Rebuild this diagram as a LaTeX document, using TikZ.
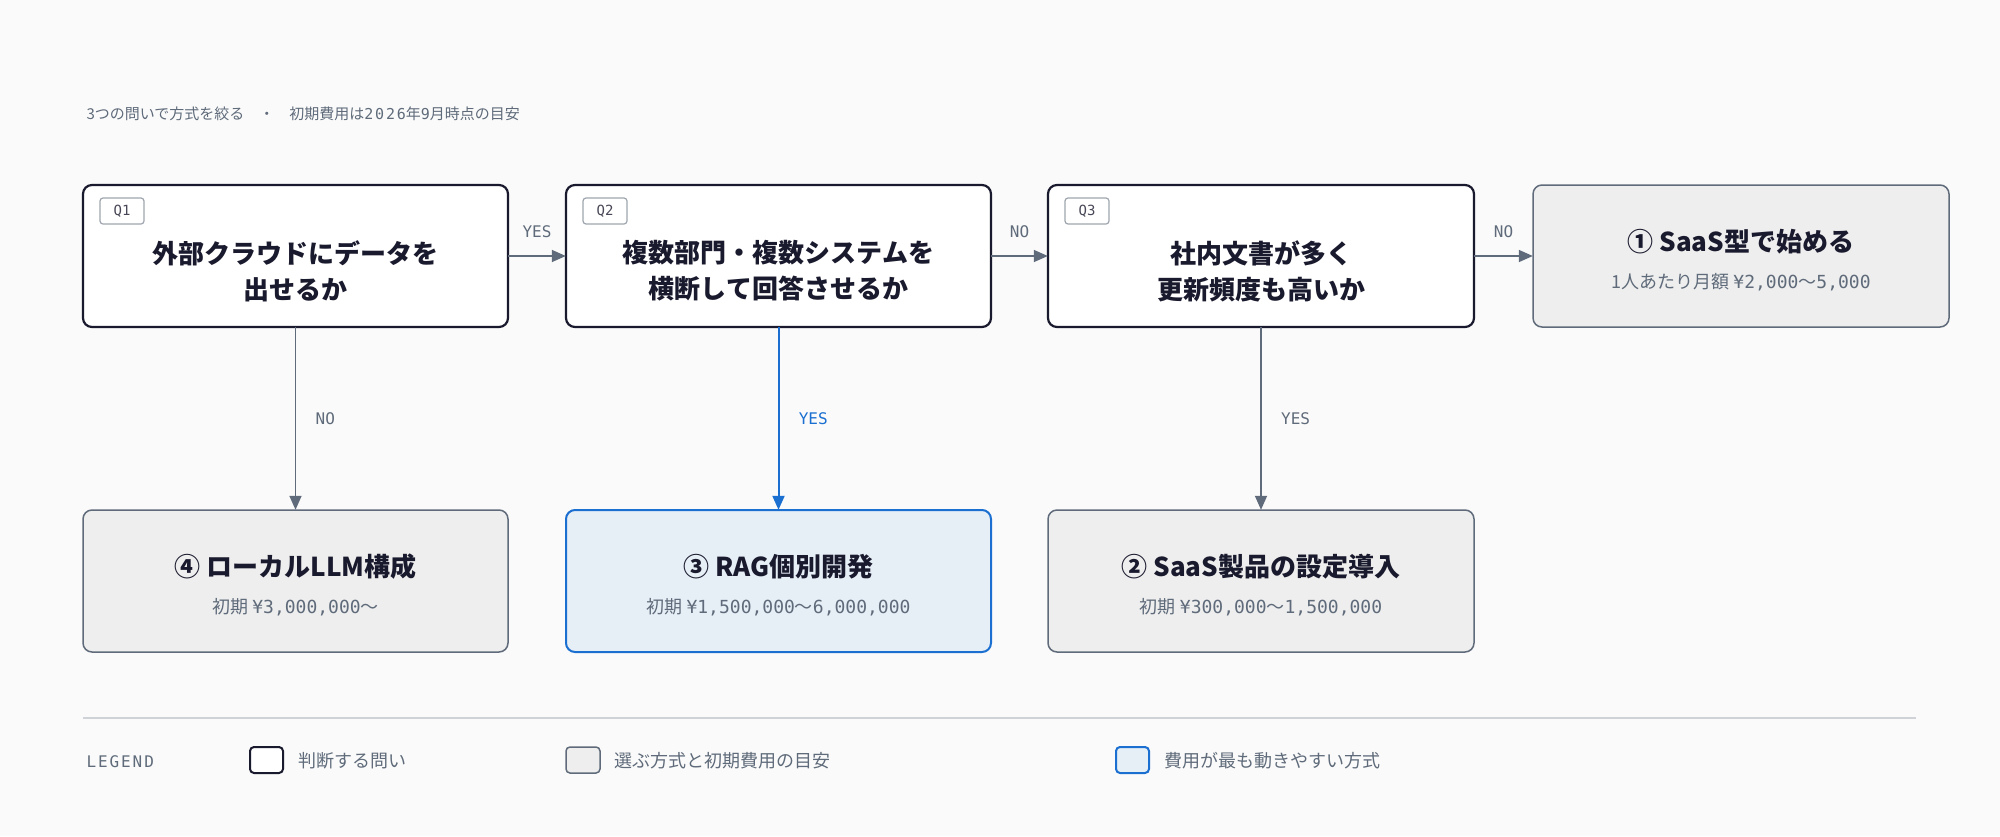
\documentclass[tikz,border=0pt]{standalone}
\usepackage{fontspec}
\setmainfont{Noto Sans CJK JP}
\newfontfamily\monof{DejaVu Sans Mono}
\newfontfamily\monol[LetterSpace=12]{DejaVu Sans Mono}
\usetikzlibrary{arrows.meta}
\definecolor{bgc}{HTML}{FAFAFA}
\definecolor{ink}{HTML}{1A1A2E}
\definecolor{slate}{HTML}{5F6B7A}
\definecolor{greyf}{HTML}{EEEEEE}
\definecolor{bluel}{HTML}{1A6FD1}
\definecolor{bluef}{HTML}{E6EEF6}
\tikzset{
  qbox/.style={draw=ink, line width=2.2pt, fill=white, rounded corners=9pt},
  abox/.style={draw=slate, line width=1.5pt, fill=greyf, rounded corners=9pt},
  bbox/.style={draw=bluel, line width=2pt, fill=bluef, rounded corners=9pt},
  tag/.style={draw=slate!60, line width=1.2pt, rounded corners=3pt, fill=white,
    minimum width=44pt, minimum height=26pt, font=\monof\fontsize{14}{14}\selectfont, text=ink!80},
  qtext/.style={font=\bfseries\fontsize{26}{36}\selectfont, text=ink, align=center},
  ttext/.style={font=\bfseries\fontsize{26}{30}\selectfont, text=ink},
  stext/.style={font=\fontsize{18}{18}\selectfont, text=slate},
  lab/.style={font=\monof\fontsize{16}{16}\selectfont, text=slate},
  arr/.style={draw=slate, line width=1.6pt, -{Triangle[length=14pt,width=12pt]}},
}
\begin{document}
\begin{tikzpicture}[x=1pt, y=-1pt]
    \fill[bgc] (0,0) rectangle (2000,836);
    \useasboundingbox (0,0) rectangle (2000,836);
    \node[anchor=west, font=\fontsize{15}{15}\selectfont, text=slate] (title) at (83,114)
      {3つの問いで方式を絞る\quad・\quad 初期費用は{\monol 2026}年{\monof 9}月時点の目安};
    % questions
    \draw[qbox] (83,185) rectangle (508,327);
    \draw[qbox] (566,185) rectangle (991,327);
    \draw[qbox] (1048,185) rectangle (1474,327);
    \node[tag] (t1) at (122,211) {Q1};
    \node[tag] (t2) at (605,211) {Q2};
    \node[tag] (t3) at (1087,211) {Q3};
    \node[qtext, minimum width=425pt, minimum height=142pt] (q1) at (295.5,256) {};
    \node[qtext, minimum width=425pt, minimum height=142pt] (q2) at (778.5,256) {};
    \node[qtext, minimum width=426pt, minimum height=142pt] (q3) at (1261,256) {};
    \node[qtext] (x1) at (295.5,271) {外部クラウドにデータを\\出せるか};
    \node[qtext] (x2) at (778.5,271) {複数部門・複数システムを\\横断して回答させるか};
    \node[qtext] (x3) at (1261,271) {社内文書が多く\\更新頻度も高いか};
    % answers
    \draw[abox] (1533,185) rectangle (1949,327);
    \draw[abox] (83,510) rectangle (508,652);
    \draw[bbox] (566,510) rectangle (991,652);
    \draw[abox] (1048,510) rectangle (1474,652);
    \node[minimum width=416pt, minimum height=142pt] (a1) at (1741,256) {};
    \node[minimum width=425pt, minimum height=142pt] (a4) at (295.5,581) {};
    \node[minimum width=425pt, minimum height=142pt] (a3) at (778.5,581) {};
    \node[minimum width=426pt, minimum height=142pt] (a2) at (1261,581) {};
    \node[ttext] (h1) at (1741,242) {① SaaS型で始める};
    \node[stext] (s1) at (1741,282) {1人あたり月額 {\monof ¥2,000}〜{\monof 5,000}};
    \node[ttext] (h4) at (295.5,567) {④ ローカルLLM構成};
    \node[stext] (s4) at (295.5,607) {初期 {\monof ¥3,000,000}〜};
    \node[ttext] (h3) at (778.5,567) {③ RAG個別開発};
    \node[stext] (s3) at (778.5,607) {初期 {\monof ¥1,500,000}〜{\monof 6,000,000}};
    \node[ttext] (h2) at (1261,567) {② SaaS製品の設定導入};
    \node[stext] (s2) at (1261,607) {初期 {\monof ¥300,000}〜{\monof 1,500,000}};
    % connectors
    \draw[arr] (q1) to node[lab, above, yshift=14pt] {YES} (q2);
    \draw[arr] (q2) to node[lab, above, yshift=14pt] {NO} (q3);
    \draw[arr] (q3) to node[lab, above, yshift=14pt] {NO} (a1);
    \draw[arr] (q1) to node[lab, right, xshift=16pt, pos=0.5] {NO} (a4);
    \draw[arr, draw=bluel, line width=2pt] (q2) to node[lab, text=bluel, right, xshift=16pt] {YES} (a3);
    \draw[arr] (q3) to node[lab, right, xshift=16pt] {YES} (a2);
    % legend
    \draw[slate!30, line width=1.5pt] (83,718) -- (1916,718);
    \node[anchor=west, font=\monol\fontsize{16}{16}\selectfont, text=slate] (lg) at (83,762) {LEGEND};
    \draw[qbox, line width=2pt, rounded corners=4pt] (250,747) rectangle (283,773);
    \node[anchor=west, stext] (l1) at (295,761) {判断する問い};
    \draw[abox, rounded corners=4pt] (566,747) rectangle (600,773);
    \node[anchor=west, stext] (l2) at (611,761) {選ぶ方式と初期費用の目安};
    \draw[bbox, rounded corners=4pt] (1116,747) rectangle (1149,773);
    \node[anchor=west, stext] (l3) at (1161,761) {費用が最も動きやすい方式};
\end{tikzpicture}
\end{document}
